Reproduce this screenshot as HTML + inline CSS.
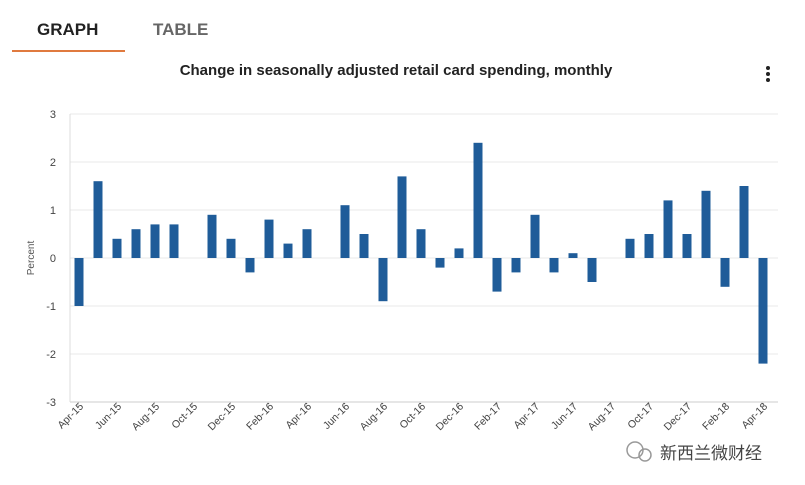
<!DOCTYPE html>
<html><head><meta charset="utf-8"><style>
body{margin:0;width:805px;height:485px;background:#fff;font-family:"Liberation Sans","Noto Sans CJK SC",sans-serif;overflow:hidden;position:relative}
.tab{position:absolute;top:20px;font-size:17px;font-weight:bold}
</style></head><body>
<div class="tab" style="left:37px;color:#222">GRAPH</div>
<div style="position:absolute;left:12px;top:50px;width:113px;height:2px;background:#e07a3f"></div>
<div class="tab" style="left:153px;color:#666">TABLE</div>
<svg width="805" height="485" style="position:absolute;left:0;top:0">
<text x="396" y="75" text-anchor="middle" font-size="15" font-weight="bold" fill="#222">Change in seasonally adjusted retail card spending, monthly</text>
<g fill="#222"><circle cx="768" cy="68" r="2"/><circle cx="768" cy="74" r="2"/><circle cx="768" cy="80" r="2"/></g>
<text transform="translate(34,258) rotate(-90)" text-anchor="middle" font-size="10" fill="#555">Percent</text>
<g id="grid"></g><g id="bars"></g><g id="xlab"></g>
<g><circle cx="635" cy="450" r="8" fill="none" stroke="#999" stroke-width="1.5"/><circle cx="645" cy="455" r="6" fill="none" stroke="#999" stroke-width="1.5"/>
<text x="660" y="459" font-size="17" fill="#444" font-family="Noto Sans CJK SC,sans-serif">新西兰微财经</text></g>
</svg>
<script>
const categories=["Apr-15","May-15","Jun-15","Jul-15","Aug-15","Sep-15","Oct-15","Nov-15","Dec-15","Jan-16","Feb-16","Mar-16","Apr-16","May-16","Jun-16","Jul-16","Aug-16","Sep-16","Oct-16","Nov-16","Dec-16","Jan-17","Feb-17","Mar-17","Apr-17","May-17","Jun-17","Jul-17","Aug-17","Sep-17","Oct-17","Nov-17","Dec-17","Jan-18","Feb-18","Mar-18","Apr-18"];
const values=[-1.0,1.6,0.4,0.6,0.7,0.7,0,0.9,0.4,-0.3,0.8,0.3,0.6,0,1.1,0.5,-0.9,1.7,0.6,-0.2,0.2,2.4,-0.7,-0.3,0.9,-0.3,0.1,-0.5,0,0.4,0.5,1.2,0.5,1.4,-0.6,1.5,-2.2];
const yTicks=[3,2,1,0,-1,-2,-3];
const NS="http://www.w3.org/2000/svg";
const left=70,right=778,x0=79,step=19;
const y=v=>258-v*48, x=i=>x0+i*step;
function mk(t,a,p){const e=document.createElementNS(NS,t);for(const k in a)e.setAttribute(k,a[k]);p.appendChild(e);return e;}
const grid=document.getElementById('grid'),bars=document.getElementById('bars'),xl=document.getElementById('xlab');
yTicks.forEach(v=>{
 const l=mk('line',{x1:left,x2:right,y1:y(v),y2:y(v),stroke:v==-3?'#ccc':'#e8e8e8'},grid);
 
 
 const t=mk('text',{x:56,y:y(v)+4,'text-anchor':'end','font-size':11,fill:'#444'},grid);t.textContent=v;
 
 
});
mk('line',{x1:left,x2:left,y1:y(3),y2:y(-3),stroke:'#ddd'},grid);
values.forEach((v,i)=>{
 const r=mk('rect',{x:x(i)-4.5,width:9,y:Math.min(y(v),y(0)),height:Math.abs(y(v)-y(0)),fill:'#1f5c99'},bars);
 
 
});
categories.forEach((c,i)=>{
 if(i%2)return;
 mk('line',{x1:x(i)-1,x2:x(i)-1,y1:402,y2:407,stroke:'#ccc'},xl);
 const t=mk('text',{transform:`translate(${x(i)+5},${407}) rotate(-45)`,'text-anchor':'end','font-size':10.5,fill:'#444'},xl);
 t.textContent=c;
 
 
});
</script>
</body></html>
